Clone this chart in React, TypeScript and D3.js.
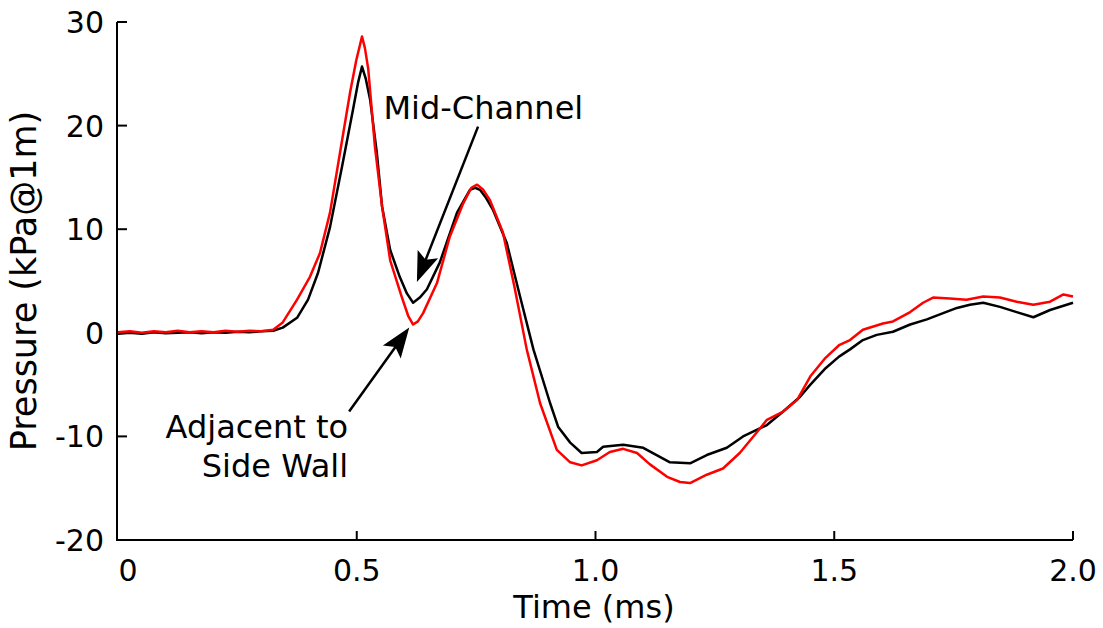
import React from "react";
import * as d3 from "d3";

// ---- data ----
const midTime = [0, 0.025, 0.05, 0.075, 0.1, 0.125, 0.15, 0.175, 0.2, 0.225, 0.25, 0.275, 0.3, 0.325, 0.345, 0.375, 0.398, 0.419, 0.444, 0.469, 0.492, 0.503, 0.511, 0.519, 0.528, 0.542, 0.553, 0.57, 0.59, 0.605, 0.618, 0.632, 0.647, 0.674, 0.71, 0.737, 0.748, 0.758, 0.771, 0.785, 0.814, 0.842, 0.87, 0.905, 0.922, 0.947, 0.971, 1.003, 1.016, 1.058, 1.1, 1.128, 1.156, 1.198, 1.233, 1.275, 1.309, 1.359, 1.393, 1.428, 1.45, 1.48, 1.51, 1.533, 1.56, 1.589, 1.623, 1.659, 1.694, 1.728, 1.757, 1.784, 1.812, 1.847, 1.882, 1.917, 1.952, 2.0];
const midValues = [-0.1, 0.0, -0.1, 0.05, -0.05, 0.0, 0.05, -0.05, 0.05, 0.0, 0.1, 0.05, 0.15, 0.2, 0.5, 1.45, 3.2, 5.8, 10.2, 16, 21.5, 24.2, 25.7, 24.5, 22.5, 17.4, 12.2, 8, 5.4, 3.8, 2.9, 3.4, 4.2, 6.8, 11.6, 13.8, 14.0, 13.8, 13.0, 11.9, 8.7, 3.5, -1.6, -6.8, -9.1, -10.6, -11.6, -11.5, -11.0, -10.8, -11.1, -11.8, -12.5, -12.6, -11.8, -11.1, -10.0, -8.9, -7.6, -6.2, -5.0, -3.5, -2.3, -1.6, -0.7, -0.2, 0.1, 0.8, 1.3, 1.9, 2.4, 2.7, 2.9, 2.5, 2.0, 1.5, 2.2, 2.9];

const sideTime = [0, 0.025, 0.05, 0.075, 0.1, 0.125, 0.15, 0.175, 0.2, 0.225, 0.25, 0.275, 0.3, 0.325, 0.345, 0.375, 0.402, 0.423, 0.444, 0.465, 0.486, 0.499, 0.511, 0.517, 0.524, 0.538, 0.553, 0.57, 0.594, 0.608, 0.618, 0.628, 0.639, 0.668, 0.695, 0.723, 0.74, 0.752, 0.765, 0.779, 0.806, 0.83, 0.856, 0.884, 0.919, 0.947, 0.971, 1.003, 1.03, 1.058, 1.087, 1.114, 1.15, 1.177, 1.198, 1.233, 1.267, 1.302, 1.338, 1.359, 1.393, 1.422, 1.45, 1.48, 1.51, 1.533, 1.56, 1.602, 1.623, 1.659, 1.686, 1.707, 1.742, 1.777, 1.812, 1.847, 1.882, 1.917, 1.952, 1.98, 2.0];
const sideValues = [0.05, 0.15, 0.0, 0.15, 0.05, 0.2, 0.05, 0.15, 0.05, 0.2, 0.1, 0.2, 0.15, 0.3, 1.0, 3.2, 5.4, 7.7, 11.6, 17.4, 23.2, 26.3, 28.6, 27.5, 25.5, 18, 12.2, 7, 3.5, 1.6, 0.8, 1.1, 1.9, 4.8, 9.3, 12.5, 14.0, 14.3, 13.8, 12.8, 9.7, 4.5, -1.6, -6.8, -11.3, -12.5, -12.8, -12.3, -11.5, -11.2, -11.6, -12.7, -13.9, -14.4, -14.5, -13.7, -13.1, -11.6, -9.6, -8.4, -7.6, -6.5, -4.2, -2.5, -1.2, -0.7, 0.3, 0.9, 1.1, 2.0, 2.9, 3.4, 3.3, 3.2, 3.5, 3.4, 3.0, 2.7, 3.0, 3.7, 3.5];

const xTicks = [0, 0.5, 1.0, 1.5, 2.0];
const xTickLabels = ["0", "0.5", "1.0", "1.5", "2.0"];
const yTicks = [-20, -10, 0, 10, 20, 30];
const yTickLabels = ["-20", "-10", "0", "10", "20", "30"];

const W = 1103;
const H = 628;
const FONT = "DejaVu Sans";

export default function App() {
  const x = d3.scaleLinear().domain([0, 2]).range([118, 1073]);
  const y = d3.scaleLinear().domain([-20, 30]).range([540, 22]);
  const line = d3
    .line<[number, number]>()
    .x((d) => x(d[0]))
    .y((d) => y(d[1]))
    .curve(d3.curveLinear);
  const mid = midTime.map((t, i) => [t, midValues[i]] as [number, number]);
  const side = sideTime.map((t, i) => [t, sideValues[i]] as [number, number]);

  const arrow = (x1: number, y1: number, x2: number, y2: number) => {
    const ang = Math.atan2(y2 - y1, x2 - x1);
    const hl = 30;
    const hw = 11;
    const bx = x2 - hl * Math.cos(ang);
    const by = y2 - hl * Math.sin(ang);
    const nx = -Math.sin(ang);
    const ny = Math.cos(ang);
    const pts = [
      [x2, y2],
      [bx + nx * hw, by + ny * hw],
      [x2 - hl * 0.8 * Math.cos(ang), y2 - hl * 0.8 * Math.sin(ang)],
      [bx - nx * hw, by - ny * hw],
    ];
    return (
      <g>
        <line x1={x1} y1={y1} x2={x2 - hl * 0.7 * Math.cos(ang)} y2={y2 - hl * 0.7 * Math.sin(ang)} stroke="#000" strokeWidth={2.5} />
        <polygon points={pts.map((p) => p.join(",")).join(" ")} fill="#000" />
      </g>
    );
  };

  return (
    <svg width={W} height={H} style={{ position: "absolute", left: 0, top: 0, background: "#fff" }} fontFamily={FONT}>
      <rect width={W} height={H} fill="#fff" />
      {/* axes */}
      <line x1={117} y1={y(30)} x2={117} y2={541} stroke="#000" strokeWidth={2} />
      <line x1={116} y1={540} x2={x(2)} y2={540} stroke="#000" strokeWidth={2} />
      {yTicks.map((t, i) => (
        <g key={"y" + t}>
          <line x1={117} x2={127} y1={y(t)} y2={y(t)} stroke="#000" strokeWidth={2} />
          <text x={104} y={y(t) + 11} textAnchor="end" fontSize={30} fill="#000">
            {yTickLabels[i]}
          </text>
        </g>
      ))}
      {xTicks.map((t, i) => (
        <g key={"x" + t}>
          {t > 0 && <line x1={x(t)} x2={x(t)} y1={540} y2={531} stroke="#000" strokeWidth={2} />}
          <text x={x(t) + (t === 0 ? 10 : 0)} y={581} textAnchor="middle" fontSize={30} fill="#000">
            {xTickLabels[i]}
          </text>
        </g>
      ))}
      <text x={594} y={618} textAnchor="middle" fontSize={32} fill="#000">
        Time (ms)
      </text>
      <text transform={`translate(36,${281}) rotate(-90)`} textAnchor="middle" fontSize={35} fill="#000">
        Pressure (kPa@1m)
      </text>

      {/* series */}
      <path d={line(mid) || ""} fill="none" stroke="#000" strokeWidth={2.5} strokeLinejoin="round" />
      <path d={line(side) || ""} fill="none" stroke="#ff0000" strokeWidth={2.5} strokeLinejoin="round" />

      {/* annotations */}
      <text x={x(0.556)} y={y(20.6)} fontSize={32} fill="#000">
        Mid-Channel
      </text>
      {arrow(x(0.754), y(19.9), x(0.626), y(4.9))}
      <text x={x(0.482)} y={y(-10.2)} textAnchor="end" fontSize={32} fill="#000">
        Adjacent to
      </text>
      <text x={x(0.482)} y={y(-13.9)} textAnchor="end" fontSize={32} fill="#000">
        Side Wall
      </text>
      {arrow(x(0.484), y(-7.6), x(0.61), y(0.5))}
    </svg>
  );
}
